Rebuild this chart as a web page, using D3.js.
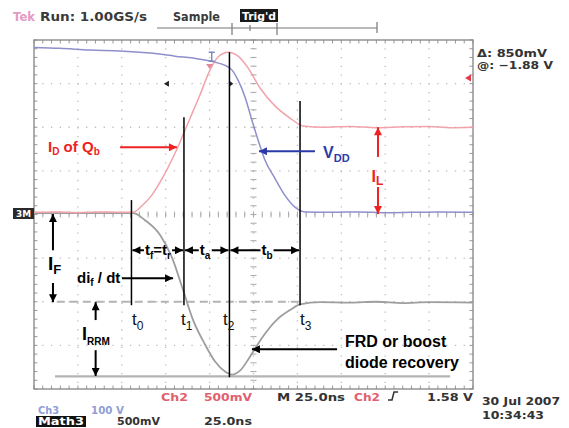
<!DOCTYPE html>
<html>
<head>
<meta charset="utf-8">
<script src="https://cdn.jsdelivr.net/npm/d3@7"></script>
<style>
  body { margin: 0; background: #fff; }
</style>
</head>
<body>
<svg id="chart" width="569" height="428"></svg>
<script>
// ---- data (time in ns, 25 ns/div ; amplitude in screen divisions) ----
const idOfQb = [ // Ch2, red
  [-125, 0.05], [-112, 0.06], [-100, 0.04], [-88, 0.06], [-76, 0.05], [-68.6, 0.05],
  [-63.5, 0.20], [-57.8, 0.45], [-51.5, 0.86], [-43.6, 1.50], [-36.2, 2.20],
  [-30.5, 2.74], [-24.8, 3.31], [-20.2, 3.61], [-14.5, 3.72], [-8.8, 3.63],
  [-3.1, 3.36], [3.7, 2.90], [12.2, 2.49], [20.8, 2.21], [28.2, 2.03],
  [40, 2.00], [55, 2.02], [70, 1.99], [85, 2.01], [100, 2.02], [112, 1.99], [125, 2.00]
];
const vdd = [ // Ch3, blue
  [-125, 3.83], [-110.3, 3.81], [-93.1, 3.77], [-76, 3.75], [-58.9, 3.70],
  [-44.7, 3.63], [-30.5, 3.56], [-21.9, 3.49], [-16.2, 3.42], [-12.2, 3.31],
  [-8.8, 3.08], [-4.8, 2.69], [-0.9, 2.16], [2.6, 1.71], [6.5, 1.25],
  [12.2, 0.83], [17.9, 0.44], [23.6, 0.17], [29.3, 0.06],
  [45, 0.05], [60, 0.06], [75, 0.04], [90, 0.05], [105, 0.06], [125, 0.05]
];
const diodeCurrent = [ // Math3, grey
  [-125, 0.03], [-100, 0.03], [-80, 0.03], [-68.6, 0.03], [-61.8, -0.13],
  [-53.2, -0.47], [-46.4, -0.99], [-40.2, -1.72], [-34.5, -2.41], [-27.6, -2.98],
  [-21.9, -3.37], [-16.2, -3.60], [-12.2, -3.67], [-7.7, -3.58], [-2.0, -3.26],
  [4.8, -2.83], [13.4, -2.41], [20.8, -2.19], [26.5, -2.06], [37.9, -2.01],
  [55, -2.02], [70, -2.00], [85, -2.03], [100, -2.01], [125, -2.02]
];
const refLevels = [ // [level, from, to, dashed]
  [-2.0, -112, 27, true],
  [-3.71, -113, 112, false]
];
const cursorNames = ["t0", "t1", "t2", "t3"];
const cursorTimes = [-69.5, -39.6, -13.7, 26.5];
const cursorTops = [0.33, 2.23, 3.72, 2.60];
const cursorBottoms = [-2.08, -2.08, -3.73, -2.08];
const cursorLabelTimes = [-69.2, -41.3, -17.4, 26.5];
const intervalLabels = [["t", "f", "=t", "r"], ["t", "a"], ["t", "b"]];
const intervalCenters = [-54.4, -27.6, 7.7];
const intervalLevel = -0.82;

// ---- layout ----
const svg = d3.select("#chart");
const frame = { left: 34, right: 473, top: 40, bottom: 389 };
const x = d3.scaleLinear().domain([-125, 125]).range([frame.left, frame.right]);
const y = d3.scaleLinear().domain([-4, 4]).range([frame.bottom, frame.top]);

const fontA = "'Liberation Sans', Arial, sans-serif";
const fontT = "'DejaVu Sans', sans-serif";

const defs = svg.append("defs");
function arrowMarker(id, colour) {
  defs.append("marker")
    .attr("id", id)
    .attr("viewBox", "0 0 10 10")
    .attr("refX", 10).attr("refY", 5)
    .attr("markerWidth", 9).attr("markerHeight", 8)
    .attr("markerUnits", "userSpaceOnUse")
    .attr("orient", "auto")
    .append("path").attr("d", "M0,0L10,5L0,10Z").attr("fill", colour);
}
arrowMarker("ak", "#000");
arrowMarker("ar", "#ee2222");
arrowMarker("ab", "#2b3aa6");

// ---- graticule ----
const grid = svg.append("g");
const majorX = d3.range(-100, 101, 25);
const majorY = d3.range(-3, 3.1, 1);
grid.selectAll(".gx").data(majorX).join("line")
  .attr("x1", d => x(d)).attr("x2", d => x(d))
  .attr("y1", frame.top).attr("y2", frame.bottom)
  .attr("stroke", "#bdbdbd").attr("stroke-width", 1.3)
  .attr("stroke-dasharray", `1.3,${(x(5) - x(0) - 1.3).toFixed(2)}`)
  .attr("stroke-dashoffset", -(y(3.8) - y(4)) + 0.6);
grid.selectAll(".gy").data(majorY).join("line")
  .attr("y1", d => y(d)).attr("y2", d => y(d))
  .attr("x1", frame.left).attr("x2", frame.right)
  .attr("stroke", "#bdbdbd").attr("stroke-width", 1.3)
  .attr("stroke-dasharray", `1.3,${(x(5) - x(0) - 1.3).toFixed(2)}`)
  .attr("stroke-dashoffset", 0.6);

// minor ticks on centre axes and frame
const minorX = d3.range(-125, 125.1, 5);
const minorY = d3.range(-4, 4.01, 0.2);
grid.selectAll(".cx").data(minorX).join("line")
  .attr("x1", d => x(d)).attr("x2", d => x(d))
  .attr("y1", y(0) - 3).attr("y2", y(0) + 3)
  .attr("stroke", "#a8a8a8").attr("stroke-width", 1);
grid.selectAll(".cy").data(minorY).join("line")
  .attr("y1", d => y(d)).attr("y2", d => y(d))
  .attr("x1", x(0) - 3).attr("x2", x(0) + 3)
  .attr("stroke", "#a8a8a8").attr("stroke-width", 1);
grid.selectAll(".tx").data(minorX).join("line")
  .attr("x1", d => x(d)).attr("x2", d => x(d))
  .attr("y1", frame.top).attr("y2", frame.top + 3.5)
  .attr("stroke", "#999");
grid.selectAll(".bx").data(minorX).join("line")
  .attr("x1", d => x(d)).attr("x2", d => x(d))
  .attr("y1", frame.bottom).attr("y2", frame.bottom - 3.5)
  .attr("stroke", "#999");
grid.selectAll(".ly").data(minorY).join("line")
  .attr("y1", d => y(d)).attr("y2", d => y(d))
  .attr("x1", frame.left).attr("x2", frame.left + 3.5)
  .attr("stroke", "#999");
grid.selectAll(".ry").data(minorY).join("line")
  .attr("y1", d => y(d)).attr("y2", d => y(d))
  .attr("x1", frame.right).attr("x2", frame.right - 3.5)
  .attr("stroke", "#999");
grid.append("rect")
  .attr("x", frame.left).attr("y", frame.top)
  .attr("width", frame.right - frame.left).attr("height", frame.bottom - frame.top)
  .attr("fill", "none").attr("stroke", "#8c8c8c").attr("stroke-width", 1.4);

// ---- reference levels ----
svg.selectAll(".ref").data(refLevels).join("line")
  .attr("x1", d => x(d[1])).attr("x2", d => x(d[2]))
  .attr("y1", d => y(d[0])).attr("y2", d => y(d[0]))
  .attr("stroke", "#b4b4b4").attr("stroke-width", 2.2)
  .attr("stroke-dasharray", d => d[3] ? "8,5" : null);

// ---- traces ----
const line = d3.line().x(d => x(d[0])).y(d => y(d[1])).curve(d3.curveMonotoneX);
svg.append("path").datum(diodeCurrent).attr("d", line)
  .attr("fill", "none").attr("stroke", "#9e9e9e").attr("stroke-width", 1.8);
svg.append("path").datum(vdd).attr("d", line)
  .attr("fill", "none").attr("stroke", "#8f8fcc").attr("stroke-width", 1.5);
svg.append("path").datum(idOfQb).attr("d", line)
  .attr("fill", "none").attr("stroke", "#f2a2aa").attr("stroke-width", 1.5);

// small scope markers
svg.append("path") // blue trigger-position I-beam
  .attr("d", `M${x(-25.5)},${y(3.72)}h6M${x(-25.5) + 3},${y(3.72)}v9M${x(-25.5)},${y(3.72) + 9}h6`)
  .attr("stroke", "#7a86c8").attr("stroke-width", 1.4).attr("fill", "none");
svg.append("path")
  .attr("d", `M${x(-25.3) - 3},${y(3.45)}h7l-3.5,5z`).attr("fill", "#e58a9a");
svg.append("path")
  .attr("d", `M${x(-51)},${y(3.0)}l5,-3v6z`).attr("fill", "#222");
svg.append("path")
  .attr("d", `M${x(-11.5)},${y(3.0)}l-4,-3v6z`).attr("fill", "#222");
svg.append("path")
  .attr("d", `M${frame.right - 8},${y(3.13)}l6,-3.5v7z`).attr("fill", "#e23a4a");

// ---- cursors t0..t3 ----
const ann = svg.append("g").attr("font-family", fontA);
cursorTimes.forEach((t, i) => {
  ann.append("line")
    .attr("x1", x(t)).attr("x2", x(t))
    .attr("y1", y(cursorTops[i])).attr("y2", y(cursorBottoms[i]))
    .attr("stroke", "#000").attr("stroke-width", 1.5);
  const lab = ann.append("text")
    .attr("x", x(cursorLabelTimes[i])).attr("y", y(-2.54))
    .attr("font-size", 17).attr("fill", "#111");
  lab.append("tspan").text(cursorNames[i][0]);
  lab.append("tspan").attr("font-size", 12).attr("dy", 5).text(cursorNames[i].slice(1));
});

// interval labels with double arrows
intervalLabels.forEach((parts, i) => {
  const txt = ann.append("text")
    .attr("x", x(intervalCenters[i])).attr("y", y(intervalLevel) + 5)
    .attr("text-anchor", "middle").attr("font-size", 15).attr("font-weight", "bold");
  parts.forEach((p, j) => {
    const sub = j % 2 === 1;
    txt.append("tspan").attr("font-size", sub ? 10 : 15)
      .attr("dy", sub ? 4 : (j === 0 ? 0 : -4)).text(p);
  });
  const bb = txt.node().getBBox();
  const yy = y(intervalLevel);
  ann.append("line").attr("x1", bb.x - 1).attr("x2", x(cursorTimes[i]) + 1)
    .attr("y1", yy).attr("y2", yy).attr("stroke", "#000").attr("stroke-width", 2)
    .attr("marker-end", "url(#ak)");
  ann.append("line").attr("x1", bb.x + bb.width + 1).attr("x2", x(cursorTimes[i + 1]) - 1)
    .attr("y1", yy).attr("y2", yy).attr("stroke", "#000").attr("stroke-width", 2)
    .attr("marker-end", "url(#ak)");
});

function arrow(t1, v1, t2, v2, colour, marker) {
  ann.append("line")
    .attr("x1", x(t1)).attr("y1", y(v1)).attr("x2", x(t2)).attr("y2", y(v2))
    .attr("stroke", colour).attr("stroke-width", 2)
    .attr("marker-end", `url(#${marker})`);
}
function subLabel(t, v, main, sub, size, subSize, colour, dy) {
  const tx = ann.append("text").attr("x", x(t)).attr("y", y(v))
    .attr("font-size", size).attr("font-weight", "bold").attr("fill", colour);
  tx.append("tspan").text(main);
  tx.append("tspan").attr("font-size", subSize).attr("dy", dy).text(sub);
  return tx;
}

// I_F
subLabel(-117.0, -1.28, "I", "F", 19, 13, "#000", 4);
arrow(-114.2, -0.82, -114.2, 0.01, "#000", "ak");
arrow(-114.2, -1.57, -114.2, -2.01, "#000", "ak");
// I_RRM
subLabel(-97.7, -2.88, "I", "RRM", 18, 10, "#000", 5);
arrow(-89.9, -2.42, -89.9, -2.01, "#000", "ak");
arrow(-89.9, -3.11, -89.9, -3.70, "#000", "ak");
// di_f / dt
{
  const tx = ann.append("text").attr("x", x(-100.5)).attr("y", y(-1.57))
    .attr("font-size", 15).attr("font-weight", "bold");
  tx.append("tspan").text("di");
  tx.append("tspan").attr("font-size", 10).attr("dy", 3).text("f");
  tx.append("tspan").attr("dy", -3).text(" / dt");
}
arrow(-74.9, -1.46, -45.8, -1.46, "#000", "ak");
// I_D of Q_b
{
  const tx = ann.append("text").attr("x", x(-117.0)).attr("y", y(1.43))
    .attr("font-size", 15).attr("font-weight", "bold").attr("fill", "#ee2222");
  tx.append("tspan").text("I");
  tx.append("tspan").attr("font-size", 10).attr("dy", 3).text("D");
  tx.append("tspan").attr("dy", -3).text(" of Q");
  tx.append("tspan").attr("font-size", 10).attr("dy", 3).text("b");
}
arrow(-76.0, 1.54, -43.6, 1.54, "#ee2222", "ar");
// V_DD
subLabel(39.6, 1.29, "V", "DD", 16, 11, "#2b3aa6", 4);
arrow(35.0, 1.45, 3.1, 1.45, "#2b3aa6", "ab");
// I_L
subLabel(67.2, 0.74, "I", "L", 16, 12, "#ee2222", 3);
arrow(70.9, 1.32, 70.9, 2.00, "#ee2222", "ar");
arrow(70.9, 0.63, 70.9, 0.01, "#ee2222", "ar");
// FRD
ann.append("text").attr("x", x(52.1)).attr("y", y(-3.04))
  .attr("font-size", 16).attr("font-weight", "bold").text("FRD or boost");
ann.append("text").attr("x", x(52.1)).attr("y", y(-3.52))
  .attr("font-size", 16).attr("font-weight", "bold").text("diode recovery");
arrow(47.6, -3.09, -0.9, -3.09, "#000", "ak");

// ---- scope header / footer text ----
const ui = svg.append("g").attr("font-family", fontT).attr("font-weight", "bold");
function uiText(px, py, s, colour, len, size) {
  return ui.append("text").attr("x", px).attr("y", py).attr("fill", colour)
    .attr("font-size", size || 11).attr("textLength", len)
    .attr("lengthAdjust", "spacingAndGlyphs").text(s);
}
uiText(13, 21, "Tek", "#e59ac2", 22, 12);
uiText(40, 21, "Run: 1.00GS/s", "#3a3a3a", 107, 12);
uiText(173, 21, "Sample", "#3a3a3a", 47, 12);
ui.append("rect").attr("x", 240).attr("y", 9).attr("width", 38).attr("height", 13).attr("fill", "#1a1a1a");
uiText(242, 20, "Trig'd", "#fff", 34, 11);
ui.append("path")
  .attr("d", "M157,28H377M232,23V35M277,23V35M377,22V33M250,25V31")
  .attr("stroke", "#777").attr("stroke-width", 1.2).attr("fill", "none");

uiText(477, 57, "\u0394: 850mV", "#333", 70, 11);
uiText(477, 69, "@: \u22121.88 V", "#333", 76, 11);

// channel ground marker
ui.append("rect").attr("x", 13).attr("y", 208).attr("width", 21).attr("height", 11).attr("fill", "#2a2a2a");
uiText(16, 217, "3M", "#fff", 15, 9);

uiText(161, 401, "Ch2", "#e0606e", 27, 11);
uiText(204, 401, "500mV", "#e0606e", 48, 11);
uiText(277, 401, "M 25.0ns", "#333", 68, 11);
uiText(354, 401, "Ch2", "#e0606e", 26, 11);
ui.append("path").attr("d", "M388,400h4l2,-8h4").attr("stroke", "#333").attr("stroke-width", 1.5).attr("fill", "none");
uiText(427, 401, "1.58 V", "#333", 46, 11);
uiText(482, 405, "30 Jul 2007", "#333", 78, 11);
uiText(482, 419, "10:34:43", "#333", 62, 11);
uiText(38, 414, "Ch3", "#8f9fd6", 21, 11);
uiText(91, 414, "100 V", "#8f9fd6", 33, 11);
ui.append("rect").attr("x", 36).attr("y", 416).attr("width", 50).attr("height", 11).attr("fill", "#111");
uiText(38, 425, "Math3", "#fff", 46, 10);
uiText(117, 425, "500mV", "#333", 43, 11);
uiText(204, 425, "25.0ns", "#333", 48, 11);
</script>
</body>
</html>
